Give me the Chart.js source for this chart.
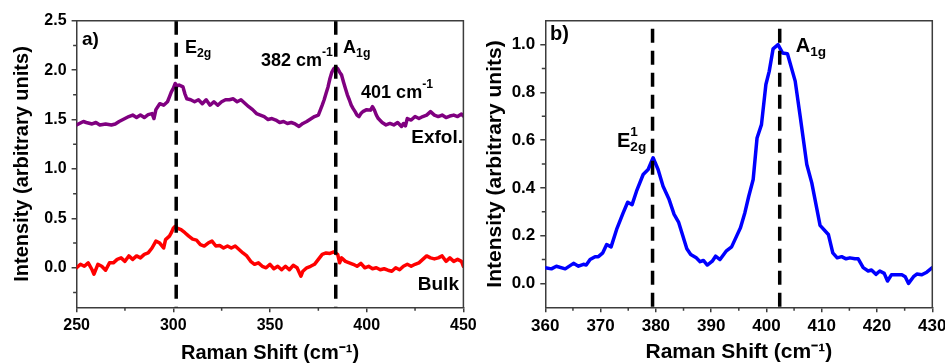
<!DOCTYPE html>
<html><head><meta charset="utf-8">
<script src="https://cdn.jsdelivr.net/npm/chart.js@4/dist/chart.umd.min.js"></script>
<style>
html,body{margin:0;padding:0;background:#fff;width:945px;height:363px;overflow:hidden}
#wa{position:absolute;left:0;top:0;width:480px;height:363px}
#wb{position:absolute;left:472px;top:0;width:473px;height:363px}
</style></head><body>
<div id="wa"><canvas id="ca" width="480" height="363"></canvas></div>
<div id="wb"><canvas id="cb" width="473" height="363"></canvas></div>
<script>
// ---- Panel a data ----
const exfolX = [250,253.5,255,258,260,262,265,268,270,272,275,277,279,281,283,285,287,289,290,291,293,295,297,298,299,300,301,302,303,305,306,307,309,311,313,315,317,319,321,323,325,327,329,331,333,335,337,339,341,343,345,347,349,351,353,355,357,359,361,363,365,367,369,371,373,375,376,377,378,379,380,381,382,383,384,385,386,387,388,389,390,391,392,393,394,395,396,397,398,400,402,403,404,405,406,408,410,412,414,416,418,419,420,421,423,425,427,429,431,433,435,437,439,441,443,445,447,449,450];
const exfolY = [1.445,1.48,1.47,1.455,1.47,1.445,1.455,1.445,1.455,1.48,1.51,1.53,1.545,1.52,1.545,1.52,1.55,1.56,1.51,1.6,1.66,1.645,1.68,1.73,1.78,1.815,1.865,1.84,1.85,1.83,1.76,1.71,1.70,1.68,1.70,1.66,1.70,1.645,1.68,1.645,1.68,1.70,1.70,1.71,1.68,1.70,1.665,1.63,1.60,1.56,1.545,1.53,1.50,1.51,1.495,1.47,1.48,1.46,1.47,1.455,1.43,1.46,1.48,1.505,1.53,1.545,1.595,1.645,1.70,1.765,1.83,1.915,1.98,2.015,2.03,2.015,1.98,1.95,1.88,1.815,1.75,1.70,1.645,1.61,1.58,1.545,1.53,1.56,1.58,1.60,1.595,1.63,1.595,1.545,1.51,1.47,1.445,1.46,1.445,1.47,1.43,1.46,1.435,1.51,1.495,1.53,1.51,1.53,1.545,1.58,1.545,1.53,1.545,1.52,1.535,1.545,1.53,1.555,1.535];
const bulkX = [250,252,254,256,258,259,261,263,265,267,269,271,273,275,277,279,281,283,285,287,289,291,293,295,296,298,299,300,301,302,304,306,308,310,312,314,316,318,320,322,324,326,328,330,332,334,336,338,340,342,344,346,348,350,352,354,356,358,360,362,364,366,367,369,371,373,375,377,379,381,383,385,386,387,389,391,393,395,397,399,401,403,405,407,409,411,413,415,417,419,421,423,425,427,429,431,433,435,437,439,441,443,445,447,449,450];
const bulkY = [0.0,0.035,0.015,0.05,-0.02,-0.065,0.035,0.015,-0.025,0.05,0.05,0.085,0.10,0.065,0.12,0.085,0.12,0.10,0.135,0.15,0.20,0.27,0.25,0.20,0.285,0.32,0.355,0.40,0.42,0.40,0.385,0.355,0.32,0.29,0.28,0.235,0.22,0.25,0.27,0.22,0.225,0.20,0.22,0.20,0.22,0.185,0.15,0.12,0.065,0.035,0.05,0.015,0.0,0.035,-0.01,0.015,-0.02,0.015,-0.02,0.025,0.0,-0.085,-0.035,0.0,0.015,0.035,0.085,0.135,0.15,0.145,0.16,0.135,0.05,0.10,0.065,0.05,0.035,0.015,0.045,0.0,0.015,-0.01,0.0,-0.02,-0.01,-0.025,-0.035,0.0,-0.02,0.015,0.035,0.015,0.035,0.05,0.085,0.12,0.10,0.09,0.10,0.12,0.065,0.10,0.065,0.085,0.065,0.015];
const xTicksA = [250,300,350,400,450];
const yTicksA = [0,0.5,1.0,1.5,2.0,2.5];
const xMinorA = [275,325,375,425];
const yMinorA = [-0.25,0.25,0.75,1.25,1.75,2.25];
const peakLinesA = [301.5,384];

// ---- Panel b data ----
const blueX = [360,361.1,362,363.6,365.1,366,366.9,367.4,368.1,369,369.6,370.4,371.1,371.9,372.9,374.1,374.9,375.7,376.5,377.7,378.6,379.5,380.4,381.3,382.4,383.3,384.1,385.6,386.3,387.3,388,388.6,389.3,390.2,390.8,391.6,392.7,393.7,394.6,395.3,396.1,396.8,397.6,398.3,399.1,399.9,400.5,401.2,402.1,402.9,403.8,405.2,406.1,407.3,408.2,409.7,411.2,412,412.8,413.6,414.4,415.1,416,416.6,417.5,418.4,419,419.8,420.5,421.3,421.9,422.6,423.5,424.5,425.1,425.7,426.6,427.2,428.1,429,430];
const blueY = [0.066,0.061,0.072,0.061,0.084,0.072,0.08,0.077,0.10,0.112,0.112,0.128,0.163,0.153,0.226,0.296,0.34,0.33,0.386,0.456,0.477,0.526,0.477,0.407,0.351,0.289,0.257,0.145,0.121,0.107,0.091,0.096,0.077,0.093,0.114,0.10,0.135,0.153,0.198,0.233,0.296,0.365,0.435,0.609,0.665,0.833,0.888,0.982,1.0,0.965,0.962,0.847,0.70,0.498,0.421,0.243,0.205,0.128,0.107,0.112,0.103,0.107,0.103,0.103,0.066,0.052,0.056,0.038,0.052,0.042,0.01,0.036,0.036,0.036,0.028,0.0,0.028,0.039,0.036,0.047,0.066];
const xTicksB = [360,370,380,390,400,410,420,430];
const yTicksB = [0,0.2,0.4,0.6,0.8,1.0];
const xMinorB = [365,375,385,395,405,415,425];
const yMinorB = [0.1,0.3,0.5,0.7,0.9];
const peakLinesB = [379.4,402.4];

// ---- Texts ----
const xTitle = 'Raman Shift (cm⁻¹)';
const yTitle = 'Intensity (arbitrary units)';
const annotA = [
  {x:252.8, y:2.258, size:19, parts:[['a)','n']]},
  {x:306.0, y:2.17, size:18, parts:[['E','n'],['2g','sub']]},
  {x:345.3, y:2.04, size:18, parts:[['382 cm','n'],['-1','sup']]},
  {x:387.8, y:2.17, size:18, parts:[['A','n'],['1g','sub']]},
  {x:397.1, y:1.717, size:18, parts:[['401 cm','n'],['-1','sup']]},
  {x:449.8, y:1.263, size:19, align:'right', parts:[['Exfol.','n']]},
  {x:447.7, y:-0.229, size:19, align:'right', parts:[['Bulk','n']]}
];
const annotB = [
  {x:360.85, y:1.018, size:20, parts:[['b)','n']]},
  {x:372.97, y:0.573, size:20, parts:[['E','n'],['1','sup','2g']]},
  {x:405.3, y:0.971, size:20, parts:[['A','n'],['1g','sub']]}
];

const FONT = '"Liberation Sans", Arial, sans-serif';
Chart.defaults.font.family = FONT;
const AXC = '#3c3c3c';

function drawRich(ctx, item, x, y) {
  const size = item.size, small = size * 0.68;
  const big = `bold ${size}px ${FONT}`, sm = `bold ${small}px ${FONT}`;
  let w = 0;
  const segs = item.parts.map(p => {
    const [t, k, t2] = p;
    ctx.font = k === 'n' ? big : sm;
    let sw = ctx.measureText(t).width;
    if (t2) { ctx.font = sm; sw = Math.max(sw, ctx.measureText(t2).width); }
    w += sw;
    return {t, k, t2, sw};
  });
  let cx = item.align === 'right' ? x - w : x;
  ctx.textAlign = 'left'; ctx.textBaseline = 'alphabetic'; ctx.fillStyle = '#000';
  for (const s of segs) {
    if (s.k === 'n') { ctx.font = big; ctx.fillText(s.t, cx, y); }
    else if (s.k === 'sub') { ctx.font = sm; ctx.fillText(s.t, cx, y + size * 0.22); }
    else { ctx.font = sm; ctx.fillText(s.t, cx, y - size * 0.55); if (s.t2) ctx.fillText(s.t2, cx, y + size * 0.24); }
    cx += s.sw;
  }
}

const decor = {
  id: 'decor',
  afterDatasetsDraw(chart, args, o) {
    const {ctx, chartArea: a, scales: {x, y}} = chart;
    ctx.save();
    ctx.strokeStyle = '#000'; ctx.lineWidth = 3.5; ctx.setLineDash([14, 8]);
    for (const v of o.vlines) {
      const px = x.getPixelForValue(v);
      ctx.beginPath(); ctx.moveTo(px, a.top + o.dashStart); ctx.lineTo(px, a.bottom); ctx.stroke();
    }
    ctx.setLineDash([]);
    ctx.strokeStyle = AXC; ctx.lineWidth = 1.5;
    ctx.beginPath(); ctx.moveTo(a.left, a.top); ctx.lineTo(a.right, a.top); ctx.lineTo(a.right, a.bottom); ctx.stroke();
    ctx.beginPath();
    for (const v of o.minorX) { const px = x.getPixelForValue(v); ctx.moveTo(px, a.bottom); ctx.lineTo(px, a.bottom + 3.5); }
    for (const v of o.minorY) { const py = y.getPixelForValue(v); ctx.moveTo(a.left, py); ctx.lineTo(a.left - 3.5, py); }
    ctx.stroke();
    for (const it of o.annots) drawRich(ctx, it, x.getPixelForValue(it.x), y.getPixelForValue(it.y));
    ctx.restore();
  }
};

function makeChart(id, cfg) {
  const tickFont = {size: cfg.tickSize, weight: 'bold', family: FONT};
  const titleFont = {size: cfg.titleSize, weight: 'bold', family: FONT, lineHeight: 1};
  return new Chart(document.getElementById(id), {
    type: 'line',
    data: {datasets: cfg.datasets.map(d => ({
      data: d.xs.map((v, i) => ({x: v, y: d.ys[i]})),
      borderColor: d.color, borderWidth: 3.5, pointRadius: 0, tension: 0,
      borderJoinStyle: 'round', borderCapStyle: 'round', fill: false
    }))},
    options: {
      responsive: false, animation: false, events: [],
      layout: {padding: {left: 0, top: 20.7, right: cfg.padRight, bottom: 0}},
      plugins: {legend: {display: false}, tooltip: {enabled: false},
        decor: {vlines: cfg.vlines, dashStart: cfg.dashStart, minorX: cfg.minorX, minorY: cfg.minorY, annots: cfg.annots}},
      scales: {
        x: {type: 'linear', min: cfg.xMin, max: cfg.xMax,
          afterBuildTicks: s => { s.ticks = cfg.xTicks.map(v => ({value: v})); },
          afterFit: s => { s.height = 55.7; s.paddingLeft = 0; s.paddingRight = 0; },
          ticks: {font: tickFont, color: '#000', padding: 4, maxRotation: 0, autoSkip: false, callback: v => String(v)},
          grid: {drawOnChartArea: false, tickLength: 5, color: AXC, lineWidth: 1.5},
          border: {color: AXC, width: 1.5},
          title: {display: true, text: xTitle, font: titleFont, color: '#000', padding: {top: 0, bottom: 0}}
        },
        y: {type: 'linear', min: cfg.yMin, max: cfg.yMax,
          afterBuildTicks: s => { s.ticks = cfg.yTicks.map(v => ({value: v})); },
          afterFit: s => { s.width = cfg.yWidth; s.paddingTop = 0; s.paddingBottom = 0; },
          ticks: {font: tickFont, color: '#000', padding: 5, autoSkip: false, callback: v => v.toFixed(1)},
          grid: {drawOnChartArea: false, tickLength: 5, color: AXC, lineWidth: 1.5},
          border: {color: AXC, width: 1.5},
          title: {display: true, text: yTitle, font: titleFont, color: '#000', padding: {top: cfg.yTitlePad, bottom: 0}}
        }
      }
    },
    plugins: [decor]
  });
}

makeChart('ca', {
  datasets: [{xs: exfolX, ys: exfolY, color: '#800080'}, {xs: bulkX, ys: bulkY, color: '#ff0000'}],
  xMin: 250, xMax: 450, yMin: -0.4, yMax: 2.5, xTicks: xTicksA, yTicks: yTicksA,
  minorX: xMinorA, minorY: yMinorA, vlines: peakLinesA, dashStart: 0, annots: annotA,
  tickSize: 16, titleSize: 20, yWidth: 76.6, padRight: 480 - 463.4, yTitlePad: 12
});
makeChart('cb', {
  datasets: [{xs: blueX, ys: blueY, color: '#0000ff'}],
  xMin: 360, xMax: 430, yMin: -0.1, yMax: 1.1, xTicks: xTicksB, yTicks: yTicksB,
  minorX: xMinorB, minorY: yMinorB, vlines: peakLinesB, dashStart: 8, annots: annotB,
  tickSize: 17, titleSize: 21, yWidth: 73.3, padRight: 473 - 460.3, yTitlePad: 12.5
});
</script>
</body></html>
